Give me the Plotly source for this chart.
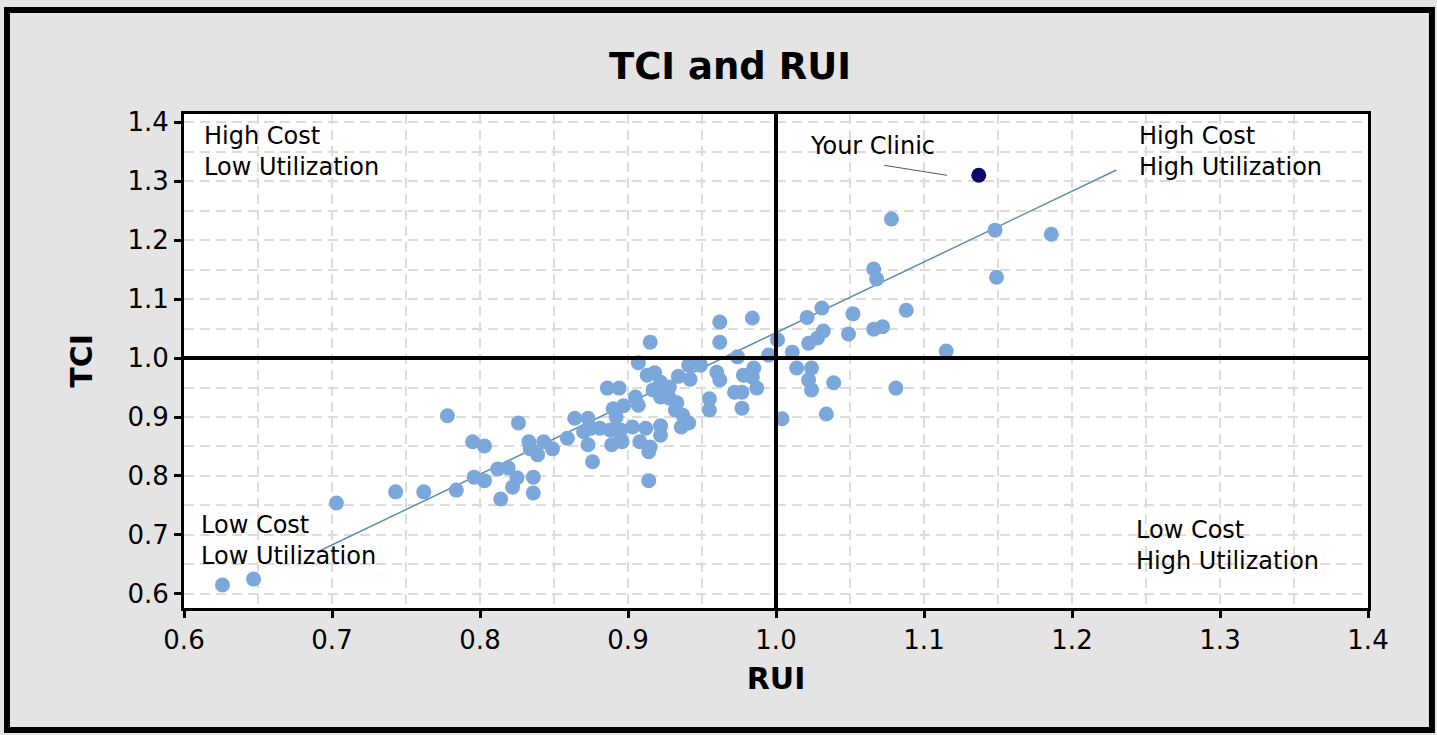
import plotly.graph_objects as go

# ---- data ----
rui = [0.626, 0.647, 0.703, 0.743, 0.762, 0.784, 0.778, 0.795, 0.803, 0.796,
       0.803, 0.812, 0.819, 0.825, 0.822, 0.814, 0.836, 0.836, 0.826, 0.833,
       0.843, 0.834, 0.839, 0.849, 0.859, 0.864, 0.873, 0.875, 0.870, 0.873,
       0.876, 0.886, 0.894, 0.890, 0.897, 0.892, 0.888, 0.895, 0.889, 0.895,
       0.881, 0.896, 0.905, 0.907, 0.903, 0.912, 0.908, 0.915, 0.914, 0.922,
       0.922, 0.907, 0.915, 0.913, 0.918, 0.922, 0.925, 0.917, 0.922, 0.914,
       0.934, 0.933, 0.936, 0.928, 0.937, 0.941, 0.941, 0.949, 0.942, 0.960,
       0.962, 0.978, 0.985, 0.984, 0.987, 0.972, 0.977, 0.955, 0.955, 0.977,
       1.004, 0.962, 0.984, 0.962, 0.974, 0.995, 1.001, 1.011, 1.014, 1.024,
       1.022, 1.024, 1.039, 1.034, 1.021, 1.031, 1.052, 1.088, 1.032, 1.028,
       1.022, 1.049, 1.066, 1.072, 1.066, 1.068, 1.078, 1.115, 1.081, 1.148,
       1.186, 1.149, 0.928, 0.932]
tci = [0.615, 0.625, 0.754, 0.773, 0.773, 0.776, 0.902, 0.858, 0.851, 0.798,
       0.792, 0.812, 0.814, 0.797, 0.781, 0.761, 0.798, 0.771, 0.890, 0.858,
       0.858, 0.846, 0.836, 0.846, 0.864, 0.898, 0.898, 0.881, 0.875, 0.853,
       0.824, 0.949, 0.949, 0.914, 0.919, 0.900, 0.878, 0.878, 0.853, 0.861,
       0.881, 0.858, 0.934, 0.920, 0.883, 0.881, 0.858, 0.849, 0.841, 0.885,
       0.869, 0.992, 1.027, 0.971, 0.975, 0.959, 0.946, 0.946, 0.934, 0.792,
       0.969, 0.924, 0.883, 0.932, 0.903, 0.890, 0.988, 0.988, 0.964, 0.976,
       0.963, 0.971, 0.983, 0.968, 0.949, 0.942, 0.942, 0.931, 0.912, 0.915,
       0.897, 1.061, 1.068, 1.027, 1.002, 1.005, 1.031, 1.010, 0.983, 0.983,
       0.963, 0.946, 0.958, 0.905, 1.069, 1.085, 1.075, 1.081, 1.046, 1.034,
       1.025, 1.041, 1.049, 1.053, 1.151, 1.134, 1.236, 1.012, 0.949, 1.217,
       1.210, 1.137, 0.951, 0.912]

clinic_rui = [1.137]
clinic_tci = [1.310]

trend_rui = [0.690, 1.230]
trend_tci = [0.671, 1.319]

x_ticks = [0.6, 0.7, 0.8, 0.9, 1.0, 1.1, 1.2, 1.3, 1.4]
y_ticks = [0.6, 0.7, 0.8, 0.9, 1.0, 1.1, 1.2, 1.3, 1.4]

FONT = "DejaVu Sans"

fig = go.Figure()

fig.add_trace(go.Scatter(
    x=trend_rui, y=trend_tci, mode="lines",
    line=dict(color="#5f8fa8", width=1.5), hoverinfo="skip", showlegend=False))

fig.add_trace(go.Scatter(
    x=rui, y=tci, mode="markers",
    marker=dict(color="#7ba7da", size=15, line=dict(width=0)),
    showlegend=False, name="Clinics"))

fig.add_trace(go.Scatter(
    x=clinic_rui, y=clinic_tci, mode="markers",
    marker=dict(color="#0b0b6b", size=15, line=dict(width=0)),
    showlegend=False, name="Your Clinic"))

grid = dict(showgrid=True, gridcolor="#dcdcdc", gridwidth=2, griddash="10px,6px")

fig.update_xaxes(
    range=[0.6, 1.4], tickvals=x_ticks, tickformat=".1f",
    showline=True, linecolor="black", linewidth=3, mirror=True,
    ticks="outside", ticklen=7, tickwidth=3, tickcolor="black",
    tickfont=dict(family=FONT, size=26, color="black"),
    zeroline=False,
    minor=dict(dtick=0.05, tick0=0.6, showgrid=True, gridcolor="#dcdcdc",
               gridwidth=2, griddash="10px,6px"),
    title=dict(text="<b>RUI</b>", font=dict(family=FONT, size=30, color="black"), standoff=14),
    **grid)
fig.update_yaxes(
    range=[0.576, 1.414], tickvals=y_ticks, tickformat=".1f",
    showline=True, linecolor="black", linewidth=3, mirror=True,
    ticks="outside", ticklen=7, tickwidth=3, tickcolor="black",
    tickfont=dict(family=FONT, size=26, color="black"),
    zeroline=False,
    minor=dict(dtick=0.05, tick0=0.6, showgrid=True, gridcolor="#dcdcdc",
               gridwidth=2, griddash="10px,6px"),
    title=dict(text="<b>TCI</b>", font=dict(family=FONT, size=30, color="black"), standoff=26),
    **grid)

# quadrant dividers
fig.add_shape(type="line", xref="x", yref="paper", x0=1.0, x1=1.0, y0=0, y1=1,
              line=dict(color="black", width=4))
fig.add_shape(type="line", xref="paper", yref="y", x0=0, x1=1, y0=1.0, y1=1.0,
              line=dict(color="black", width=4))

# outer frame
fig.add_shape(type="rect", xref="paper", yref="paper",
              x0=-0.1495, x1=1.054, y0=-0.247, y1=1.2105,
              line=dict(color="black", width=6), fillcolor="rgba(0,0,0,0)", layer="below")

qfont = dict(family=FONT, size=24, color="black")
fig.add_annotation(x=0.612, y=1.404, xref="x", yref="y", text="High Cost<br>Low Utilization",
                   showarrow=False, xanchor="left", yanchor="top", align="left", font=qfont)
fig.add_annotation(x=1.244, y=1.404, xref="x", yref="y", text="High Cost<br>High Utilization",
                   showarrow=False, xanchor="left", yanchor="top", align="left", font=qfont)
fig.add_annotation(x=0.610, y=0.744, xref="x", yref="y", text="Low Cost<br>Low Utilization",
                   showarrow=False, xanchor="left", yanchor="top", align="left", font=qfont)
fig.add_annotation(x=1.242, y=0.735, xref="x", yref="y", text="Low Cost<br>High Utilization",
                   showarrow=False, xanchor="left", yanchor="top", align="left", font=qfont)
fig.add_annotation(x=0.6 + 624 / 1480, y=1.360, xref="x", yref="y", text="Your Clinic",
                   showarrow=False, xanchor="left", yanchor="middle", align="left", font=qfont)
fig.add_shape(type="line", xref="x", yref="y", x0=1.073, y0=1.327, x1=1.1155, y1=1.310,
              line=dict(color="#555555", width=1))

fig.update_layout(
    width=1437, height=735,
    margin=dict(l=184, r=69, t=114, b=127),
    paper_bgcolor="#e4e4e4", plot_bgcolor="white",
    title=dict(text="<b>TCI and RUI</b>", x=0.508, xanchor="center", y=0.91, yanchor="middle",
               font=dict(family=FONT, size=37, color="black")),
    font=dict(family=FONT),
)

fig.write_html("out.html", config={"displayModeBar": False},
               post_script="document.body.style.margin='0';document.body.style.overflow='hidden';")
